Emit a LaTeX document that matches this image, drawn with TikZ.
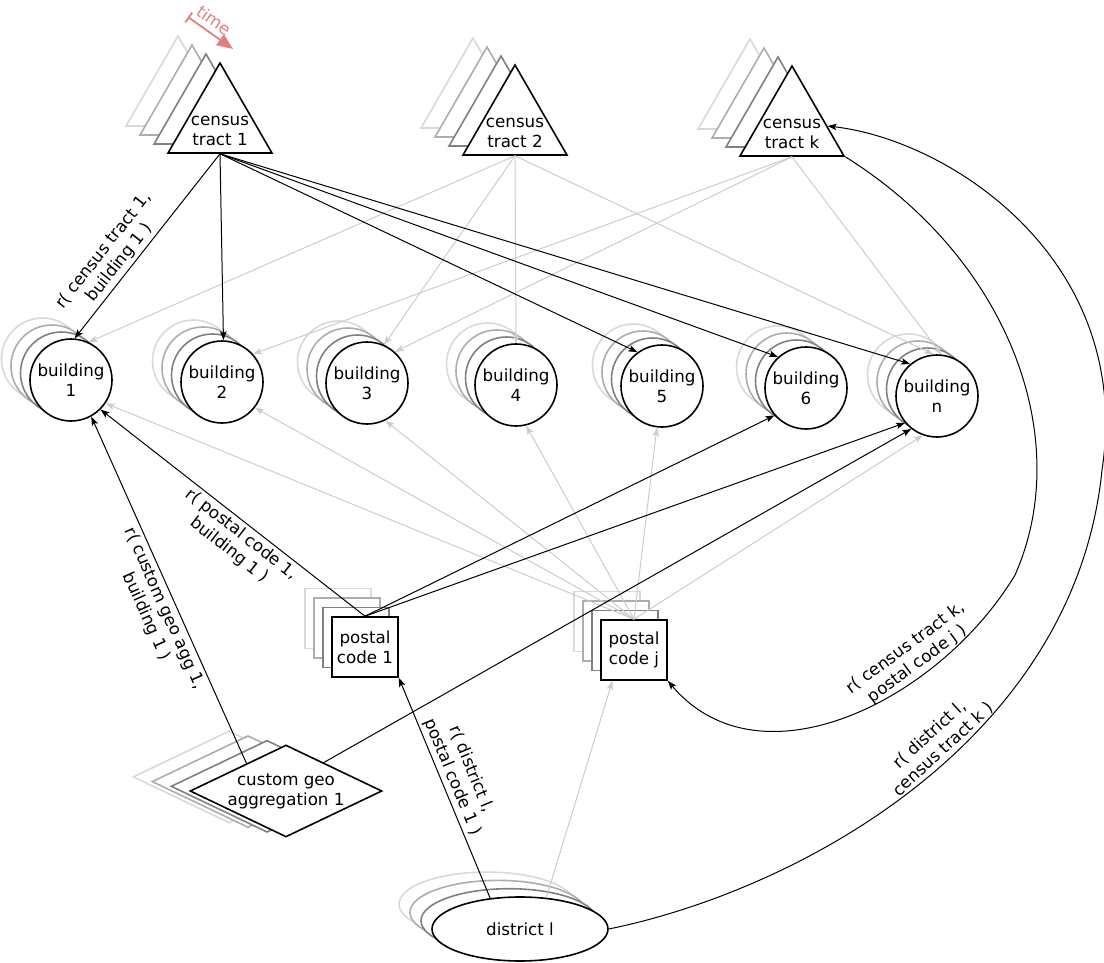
\documentclass[tikz,border=0pt]{standalone}
\usepackage{fontspec}
\setmainfont{DejaVu Sans}
\usetikzlibrary{shapes.geometric, arrows.meta, positioning}
\definecolor{timeColor}{RGB}{224,128,130}
\definecolor{faintColor}{RGB}{204,204,204}
\tikzstyle{canvas} = [x = 1pt, y = -1pt, every node/.style={font=\fontsize{16.7}{20}\selectfont}]
\tikzstyle{shapeBorder} = [draw=black, fill=white, line width=1.6pt, inner sep=0pt, align=center]
\tikzstyle{tractStyle} = [shapeBorder, regular polygon, regular polygon sides=3, minimum size=120pt]
\tikzstyle{buildingStyle} = [shapeBorder, circle, minimum size=82pt]
\tikzstyle{postalStyle} = [shapeBorder, rectangle, minimum width=66pt, minimum height=60pt]
\tikzstyle{geoStyle} = [shapeBorder, diamond, aspect=2.09, minimum width=192pt, minimum height=92pt]
\tikzstyle{districtStyle} = [shapeBorder, ellipse, minimum width=176pt, minimum height=64pt]
\tikzstyle{tractText} = [align=center, inner sep=0pt]
\tikzstyle{tieEdge} = [draw=black, line width=1pt, -{Stealth[length=9pt, width=6.5pt, inset=2pt]}]
\tikzstyle{faintEdge} = [draw=faintColor, line width=1pt, -{Stealth[length=9pt, width=6.5pt, inset=2pt]}]
\tikzstyle{edgeText} = [align=center, inner sep=3pt]
\tikzstyle{timeArrow} = [draw=timeColor, line width=1.8pt, {Bar[width=12pt]}-{Triangle[length=16pt, width=13pt]}]
% three older copies behind a shape, light to dark
\newcommand{\ghostLayers}[4]{
  \foreach \layer/\shade in {3/15,2/32,1/50} {
    \node [#1, draw=black!\shade, shift={(#3*\layer,#4*\layer)}] at (#2) {};
  }
}
\newcommand{\tractNode}[3]{
  \ghostLayers{tractStyle}{#2}{-14}{-9}
  \node [tractStyle] (#1) at (#2) {};
  \node [tractText] at ([yshift=-8pt]#1.center) {census\\tract #3};
}
\newcommand{\buildingNode}[3]{
  \ghostLayers{buildingStyle}{#2}{-9.5}{-7}
  \node [buildingStyle] (#1) at (#2) {building\\#3};
}
\newcommand{\postalNode}[3]{
  \ghostLayers{postalStyle}{#2}{-9}{-9.5}
  \node [postalStyle] (#1) at (#2) {postal\\code #3};
}

\begin{document}
\begin{tikzpicture}[canvas]
  \useasboundingbox (0,0) rectangle (1104,963);
  % time marker
  \coordinate (timeStart) at (188,17);
  \coordinate (timeEnd) at (233,49);
  \draw [timeArrow] (timeStart) -- node [sloped, above, pos=0.42, text=timeColor, inner sep=5pt] {time} (timeEnd);
  % census tracts
  \tractNode{ct1}{220,123}{1}
  \tractNode{ct2}{515,125}{2}
  \tractNode{ctk}{792,126}{k}
  % buildings
  \buildingNode{b1}{71,380}{1}
  \buildingNode{b2}{222,382}{2}
  \buildingNode{b3}{367,383}{3}
  \buildingNode{b4}{516,385}{4}
  \buildingNode{b5}{662,386}{5}
  \buildingNode{b6}{806,388}{6}
  \buildingNode{bn}{937,396}{n}
  % postal codes
  \postalNode{pc1}{365,647}{1}
  \postalNode{pcj}{634,650}{j}
  % custom aggregation and district
  \ghostLayers{geoStyle}{286,791}{-19}{-4.7}
  \node [geoStyle] (geo) at (286,791) {custom geo\\aggregation 1};
  \ghostLayers{districtStyle}{520,929}{-11}{-8.3}
  \node [districtStyle] (district) at (520,929) {district l};
  \coordinate (arcTurn) at (1102,470);
  \coordinate (bendTurn) at (1015,575);

  % faint relations
  \foreach \target/\ang in {b1/65, b3/66, b4/90, bn/95}
    \draw [faintEdge] (ct2.south) -- (\target.\ang);
  \foreach \target/\ang in {b2/42, b3/48, bn/84}
    \draw [faintEdge] (ctk.south) -- (\target.\ang);
  \foreach \target/\ang in {b1/-34, b2/-38, b3/-64, b4/-76, b5/-97, bn/-110}
    \draw [faintEdge] (pcj.north) -- (\target.\ang);
  \draw [faintEdge] (district.50) -- (pcj.235);

  % highlighted relations
  \draw [tieEdge] (ct1.south) -- node [edgeText, sloped, above, pos=0.63] {r( census tract 1,\\building 1 )} (b1.85);
  \foreach \target/\ang in {b2/88, b5/126, b6/132, bn/130}
    \draw [tieEdge] (ct1.south) -- (\target.\ang);
  \draw [tieEdge] (pc1.north) -- node [edgeText, sloped, below, pos=0.44] {r( postal code 1,\\building 1 )} (b1.-45);
  \draw [tieEdge] (pc1.north) -- (b6.-139);
  \draw [tieEdge] (pc1.north) -- (bn.-140);
  \draw [tieEdge] (geo.145) -- node [edgeText, sloped, below, pos=0.46] {r( custom geo agg 1,\\building 1 )} (b1.-61);
  \draw [tieEdge] (geo.37) -- (bn.-128);
  \draw [tieEdge] (district.134) -- node [edgeText, sloped, above, pos=0.53] {r( district l,\\postal code 1 )} (pc1.south east);
  \draw [tieEdge] (district.east) .. controls (800,890) and (1075,740) .. node [edgeText, sloped, above, pos=0.56] {r( district l,\\census tract k )} (arcTurn) .. controls (1134,260) and (950,140) .. (ctk.0);
  \draw [tieEdge] (ctk.corner 3) .. controls (1010,260) and (1075,440) .. (bendTurn) .. controls (940,700) and (760,790) .. node [edgeText, sloped, above, pos=0.3] {r( census tract k,\\postal code j )} (pcj.south east);
\end{tikzpicture}
\end{document}
